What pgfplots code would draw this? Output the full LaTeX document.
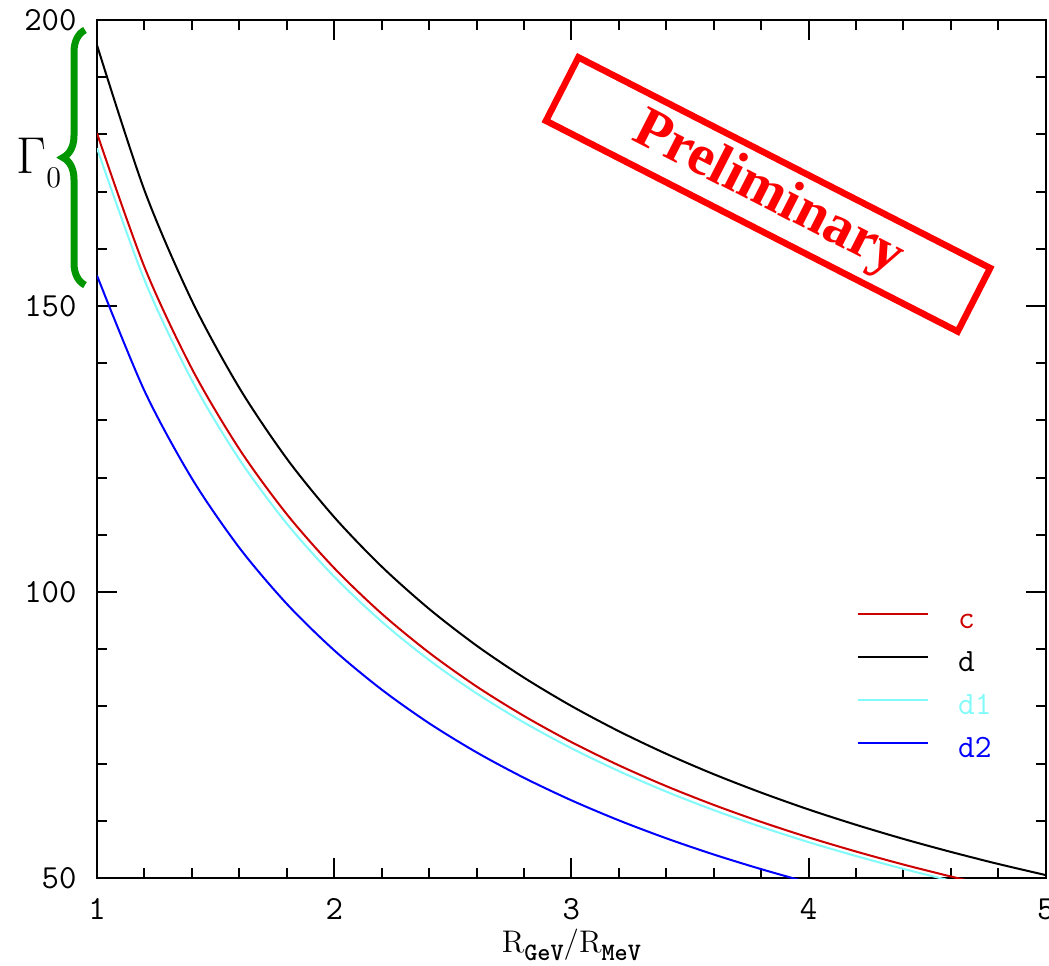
\documentclass[border=0pt]{standalone}
\usepackage{pgfplots}
\pgfplotsset{compat=1.18}
\usepackage{pgfplotstable}
\usepackage{fontspec}
\usetikzlibrary{decorations.pathreplacing}
\newfontfamily\tnr{Liberation Serif}
\newcommand\cour{\ttfamily}
\definecolor{cred}{RGB}{205,0,0}
\definecolor{ccyan}{RGB}{130,250,250}
\definecolor{cblue}{RGB}{0,0,255}
\definecolor{cgreen}{RGB}{0,150,0}
\definecolor{pred}{RGB}{255,0,0}

\pgfplotstableread{
x     c       d       da      db
1.0   180.20  195.60  177.59  155.33
1.2   156.82  170.23  154.55  135.18
1.4   139.04  150.93  137.02  119.85
1.6   125.00  135.69  123.19  107.75
1.8   113.62  123.33  111.97  97.94
2.0   104.19  113.10  102.68  89.81
2.2   96.23   104.46  94.83   82.95
2.4   89.41   97.06   88.11   77.07
2.6   83.50   90.64   82.29   71.98
2.8   78.34   85.04   77.20   67.53
3.0   73.77   80.08   72.70   63.59
3.2   69.71   75.67   68.70   60.09
3.4   66.07   71.72   65.11   56.95
3.6   62.79   68.16   61.88   54.12
3.8   59.82   64.94   58.95   51.56
4.0   57.11   61.99   56.28   49.23
4.2   54.64   59.31   53.85   47.10
4.4   52.36   56.84   51.60   45.13
4.6   50.27   54.57   49.54   43.33
4.8   48.33   52.46   47.63   41.66
5.0   46.54   50.52   45.87   40.12
}\curves

\begin{document}
\begin{tikzpicture}
\begin{axis}[
  scale only axis, width=379.48pt, height=343.2pt,
  xmin=1, xmax=5, ymin=50, ymax=200,
  xtick={1,2,3,4,5}, ytick={50,100,150,200},
  minor x tick num=4, minor y tick num=4,
  tick pos=both, tick align=inside,
  major tick length=8pt, minor tick length=4pt,
  tick style={black, line width=0.8pt},
  axis line style={line width=0.8pt},
  /pgf/number format/assume math mode=true,
  tick label style={font=\cour\fontsize{13.5}{15}\selectfont, inner sep=0pt},
  yticklabel shift=8pt, xticklabel shift=8pt,
  clip mode=individual,
  xlabel={\fontsize{12.5}{14}\selectfont R\raisebox{-3.2pt}{\cour\bfseries\fontsize{10}{11}\selectfont GeV}/R\raisebox{-3.2pt}{\cour\bfseries\fontsize{10}{11}\selectfont MeV}},
  xlabel style={at={(axis description cs:0.5,0)}, anchor=base, yshift=-29.6pt, inner sep=0pt},
  legend style={draw=none, fill=none, inner sep=0pt, row sep=7.2pt,
    at={(rel axis cs:0.800,0.3143)}, anchor=north west,
    nodes={inner sep=0pt, text height=8pt, text depth=2pt},
    font=\cour\fontsize{13}{15}\selectfont,
    /tikz/every odd column/.append style={column sep=11.5pt}},
  legend cell align=left,
  legend image code/.code={\draw[#1] (0pt,2.9pt) -- (28.3pt,2.9pt);},
]
\addplot[cred, line width=0.8pt, smooth] table[x=x, y=c] {\curves};
\addlegendentry{\textcolor{cred}{c}}
\addplot[black, line width=0.8pt, smooth] table[x=x, y=d] {\curves};
\addlegendentry{d}
\addplot[ccyan, line width=0.8pt, smooth] table[x=x, y=da] {\curves};
\addlegendentry{\textcolor{ccyan}{d1}}
\addplot[cblue, line width=0.8pt, smooth] table[x=x, y=db] {\curves};
\addlegendentry{\textcolor{cblue}{d2}}

\coordinate (SW) at (rel axis cs:0,0);
\coordinate (NE) at (rel axis cs:1,1);

% Gamma_0 with brace
\node[anchor=base west, inner sep=0pt] at (rel axis cs:-0.0855,0.8210)
  {\fontsize{20.5}{23}\selectfont$\Gamma$\raisebox{-5.5pt}{\fontsize{12}{13}\selectfont 0}};
\draw[cgreen, line width=2.8pt, decorate, decoration={brace, amplitude=8.8pt}]
  (rel axis cs:-0.01265,0.6911) -- (rel axis cs:-0.01265,0.9883);

% Preliminary stamp
\node[draw=pred, line width=2.6pt, rotate=-27.1, minimum width=185pt, minimum height=28.5pt, inner sep=0pt,
      text=pred, font=\tnr\bfseries\fontsize{23}{26}\selectfont]
  at (rel axis cs:0.7073,0.7967) {Preliminary};
\end{axis}
\pgfresetboundingbox
\path[use as bounding box] ([xshift=-38.8pt,yshift=-34.8pt]SW) rectangle ([xshift=1.3pt,yshift=8pt]NE);
\end{tikzpicture}
\end{document}
